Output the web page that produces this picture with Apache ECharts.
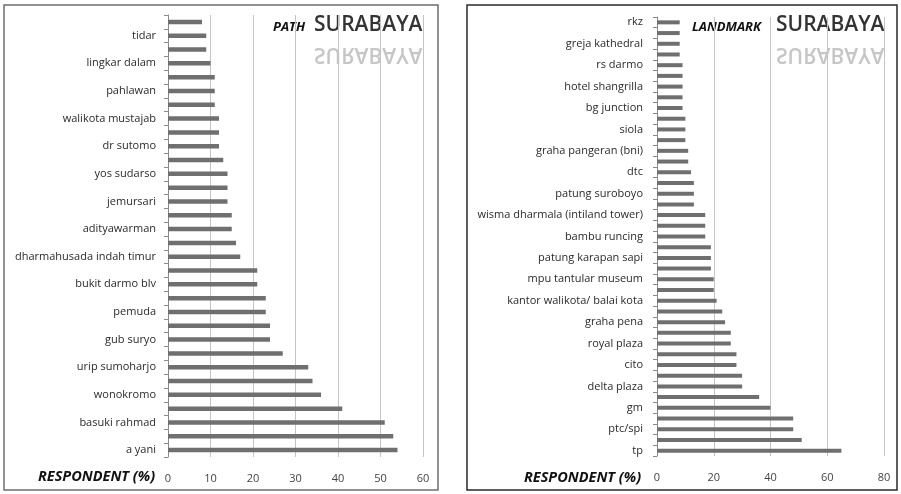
<!DOCTYPE html>
<html>
<head>
<meta charset="utf-8">
<script src="https://cdn.jsdelivr.net/npm/echarts@6/dist/echarts.min.js"></script>
<style>
  html, body { margin: 0; padding: 0; background: #fff; }
  #chart { width: 901px; height: 494px; }
</style>
</head>
<body>
<div id="chart"></div>
<script>
// path chart, bottom to top ('' = no label in the picture)
var path_names = ['a yani', '', 'basuki rahmad', '', 'wonokromo', '', 'urip sumoharjo', '',
    'gub suryo', '', 'pemuda', '', 'bukit darmo blv', '', 'dharmahusada indah timur', '',
    'adityawarman', '', 'jemursari', '', 'yos sudarso', '', 'dr sutomo', '',
    'walikota mustajab', '', 'pahlawan', '', 'lingkar dalam', '', 'tidar', '']
var path_values = [54, 53, 51, 41, 36, 34, 33, 27, 24, 24, 23, 23, 21, 21, 17, 16,
    15, 15, 14, 14, 14, 13, 12, 12, 12, 11, 11, 11, 10, 9, 9, 8]
var path_ticks = [0, 60, 10]

// landmark chart, bottom to top
var landmark_names = ['tp', '', 'ptc/spi', '', 'gm', '', 'delta plaza', '', 'cito', '',
    'royal plaza', '', 'graha pena', '', 'kantor walikota/ balai kota', '', 'mpu tantular museum', '',
    'patung karapan sapi', '', 'bambu runcing', '', 'wisma dharmala (intiland tower)', '',
    'patung suroboyo', '', 'dtc', '', 'graha pangeran (bni)', '', 'siola', '', 'bg junction', '',
    'hotel shangrilla', '', 'rs darmo', '', 'greja kathedral', '', 'rkz']
var landmark_values = [65, 51, 48, 48, 40, 36, 30, 30, 28, 28, 26, 26, 24, 23, 21, 20, 20, 19,
    19, 19, 17, 17, 17, 13, 13, 13, 12, 11, 11, 10, 10, 10, 9, 9, 9, 9, 9, 8, 8, 8, 8]
var landmark_ticks = [0, 80, 20]

var font = '"Open Sans", "DejaVu Sans", sans-serif'
var bar_color = '#6f6f6f'

function value_axis(idx, ticks) {
    return {
        type: 'value', gridIndex: idx, min: ticks[0], max: ticks[1], interval: ticks[2],
        axisLine: {show: false},
        axisTick: {show: false},
        axisLabel: {color: '#444', fontSize: 11, fontFamily: font, margin: 16},
        splitLine: {lineStyle: {color: '#c4c4c4', width: 1}}
    }
}

function cat_axis(idx, names, margin) {
    return {
        type: 'category', gridIndex: idx, data: names,
        axisLine: {lineStyle: {color: '#8a8a8a', width: 1}},
        axisTick: {show: true, length: 4, interval: 0, lineStyle: {color: '#8a8a8a'}},
        axisLabel: {color: '#2a2a2a', fontSize: 11, fontFamily: font, margin: margin, interval: 0}
    }
}

function title_texts(word, x_word, x_city) {
    return [
        {type: 'text', left: x_word, top: 21,
            style: {text: word, font: 'italic bold 13px ' + font, fill: '#111'}},
        {type: 'text', left: x_city, top: 15,
            style: {text: 'SURABAYA', font: '600 21px ' + font, fill: '#333'}},
        {type: 'text', x: x_city, y: 54, scaleY: -1, originY: 0,
            style: {text: 'SURABAYA', font: '600 21px ' + font, fill: '#c6c6c6',
                textVerticalAlign: 'middle'}}
    ]
}

var graphics = [
    {type: 'rect', shape: {x: 4, y: 5, width: 434, height: 485},
        style: {fill: 'none', stroke: '#6e6e6e', lineWidth: 1.5}},
    {type: 'rect', shape: {x: 467, y: 5, width: 430, height: 485},
        style: {fill: 'none', stroke: '#2a2a2a', lineWidth: 1.5}},
    {type: 'text', left: 38, top: 469,
        style: {text: 'RESPONDENT (%)', font: 'italic bold 14.5px ' + font, fill: '#111'}},
    {type: 'text', left: 524, top: 470,
        style: {text: 'RESPONDENT (%)', font: 'italic bold 14.5px ' + font, fill: '#111'}}
].concat(title_texts('PATH', 273, 314)).concat(title_texts('LANDMARK', 692, 776))

var option = {
    animation: false,
    backgroundColor: '#fff',
    grid: [
        {left: 168, top: 15, width: 255, height: 442},
        {left: 657, top: 17, width: 227, height: 439}
    ],
    xAxis: [value_axis(0, path_ticks), value_axis(1, landmark_ticks)],
    yAxis: [cat_axis(0, path_names, 12), cat_axis(1, landmark_names, 14)],
    series: [
        {type: 'bar', xAxisIndex: 0, yAxisIndex: 0, data: path_values,
            barWidth: 4.5, itemStyle: {color: bar_color}},
        {type: 'bar', xAxisIndex: 1, yAxisIndex: 1, data: landmark_values,
            barWidth: 4, itemStyle: {color: bar_color}}
    ],
    graphic: graphics
}

var chart_obj = echarts.init(document.getElementById('chart'))
chart_obj.setOption(option)
</script>
</body>
</html>
